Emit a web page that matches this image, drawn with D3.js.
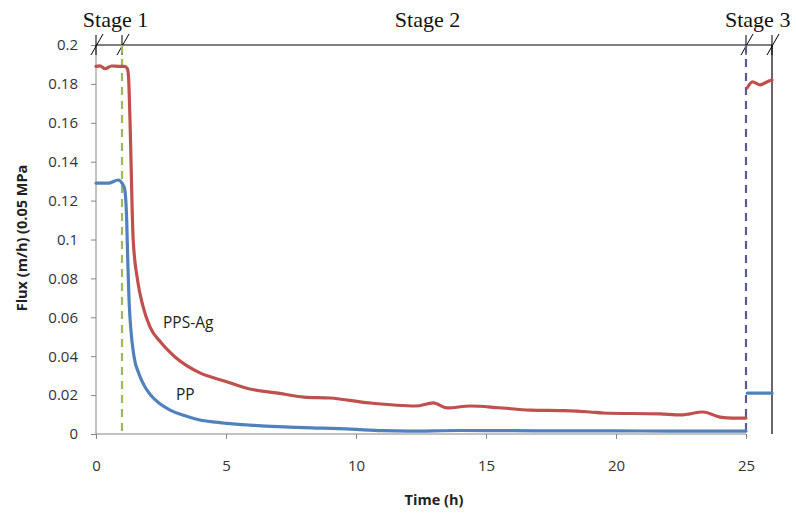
<!DOCTYPE html>
<html>
<head>
<meta charset="utf-8">
<script src="https://cdnjs.cloudflare.com/ajax/libs/d3/7.8.5/d3.min.js"></script>
<style>
  body { margin: 0; background: #fff; }
  svg { display: block; }
</style>
</head>
<body>
<div id="graph"></div>
<script>
// data (time in h, flux in m/h)
var ppsAgTime = [0, 0.15, 0.35, 0.6, 0.9, 1.1, 1.2, 1.25, 1.3, 1.43, 1.6, 1.8, 2.08, 2.5, 3.04, 4, 5, 5.8, 7, 8, 9, 10.5, 12.3, 12.97, 13.5, 14.4, 15.5, 16.7, 18, 19, 19.5, 21.7, 22.5, 23.35, 24, 24.5, 25];
var ppsAgFlux = [0.189, 0.1893, 0.1878, 0.1892, 0.189, 0.189, 0.188, 0.184, 0.165, 0.1, 0.079, 0.066, 0.055, 0.047, 0.0396, 0.0314, 0.027, 0.0235, 0.021, 0.019, 0.0185, 0.016, 0.0144, 0.016, 0.0134, 0.0144, 0.0135, 0.0123, 0.012, 0.0113, 0.0108, 0.0103, 0.0098, 0.0113, 0.0087, 0.0082, 0.0082];
var ppTime = [0, 0.5, 0.85, 1.0, 1.1, 1.18, 1.22, 1.27, 1.46, 1.65, 1.85, 2.1, 2.46, 2.85, 3.4, 4, 4.5, 5, 5.9, 7, 8, 9.8, 11, 12, 14, 16, 18, 20, 22, 25];
var ppFlux = [0.129, 0.129, 0.1306, 0.129, 0.126, 0.11, 0.09, 0.069, 0.04, 0.031, 0.025, 0.02, 0.0155, 0.0123, 0.0095, 0.0072, 0.0062, 0.0055, 0.0046, 0.0038, 0.0033, 0.0025, 0.0017, 0.0015, 0.0018, 0.0017, 0.0016, 0.0016, 0.0015, 0.0015];
// stage 3 (after re-cleaning)
var ppsAgTime3 = [25.05, 25.25, 25.55, 25.8, 26];
var ppsAgFlux3 = [0.178, 0.181, 0.1795, 0.181, 0.182];
var ppTime3 = [25.05, 25.5, 26];
var ppFlux3 = [0.021, 0.021, 0.021];

var xTicks = [0, 5, 10, 15, 20, 25];
var yTicks = [0, 0.02, 0.04, 0.06, 0.08, 0.1, 0.12, 0.14, 0.16, 0.18, 0.2];
var stageNames = ["Stage 1", "Stage 2", "Stage 3"];
var stageBreaks = [0, 1, 25, 26];

var width = 796, height = 514;
var svg = d3.select("#graph").append("svg")
    .attr("width", width)
    .attr("height", height);

var x = d3.scaleLinear().domain([0, 26]).range([96, 772]);
var y = d3.scaleLinear().domain([0, 0.2]).range([434, 45]);

var axisColor = "#868686";
var labelFont = "'Open Sans', sans-serif";

// y axis
var yAxis = svg.append("g")
    .attr("transform", "translate(" + x(0) + ",0)")
    .call(d3.axisLeft(y).tickValues(yTicks).tickSize(5).tickPadding(13).tickFormat(d3.format("~g")));
yAxis.selectAll("line, path").attr("stroke", axisColor);
yAxis.select(".domain").attr("d", "M0," + y(0) + "V" + y(0.2));
yAxis.selectAll("text").attr("font-family", labelFont).attr("font-size", "15px").attr("fill", "#333");

// x axis
var xAxis = svg.append("g")
    .attr("transform", "translate(0," + y(0) + ")")
    .call(d3.axisBottom(x).tickValues(xTicks).tickSize(5).tickPadding(21));
xAxis.selectAll("line, path").attr("stroke", axisColor);
xAxis.select(".domain").attr("d", "M" + x(0) + ",0H" + x(25));
xAxis.selectAll("text").attr("font-family", labelFont).attr("font-size", "15px").attr("fill", "#333");

// frame: top stage line and right edge
svg.append("line")
    .attr("x1", x(0)).attr("x2", x(26))
    .attr("y1", y(0.2)).attr("y2", y(0.2))
    .attr("stroke", "#000").attr("stroke-width", 1.2);
svg.append("line")
    .attr("x1", x(26)).attr("x2", x(26))
    .attr("y1", y(0.2)).attr("y2", y(0))
    .attr("stroke", "#000").attr("stroke-width", 1.2);

// stage break marks
stageBreaks.forEach(function (t) {
    var bx = x(t), by = y(0.2);
    svg.append("line")
        .attr("x1", bx).attr("x2", bx)
        .attr("y1", by - 10).attr("y2", by + 10)
        .attr("stroke", "#000").attr("stroke-width", 1);
    svg.append("line")
        .attr("x1", bx - 5).attr("x2", bx + 7)
        .attr("y1", by + 10).attr("y2", by - 11)
        .attr("stroke", "#000").attr("stroke-width", 1);
});

// stage labels
var stageCenters = [0.75, 12.75, 25.45];
svg.selectAll(".stage")
    .data(stageNames)
    .enter()
    .append("text")
    .attr("x", function (d, i) { return x(stageCenters[i]); })
    .attr("y", 27)
    .attr("text-anchor", "middle")
    .attr("font-family", "'Liberation Serif', 'DejaVu Serif', serif")
    .attr("font-size", "22px")
    .attr("fill", "#111")
    .text(function (d) { return d; });

// dashed stage dividers
svg.append("line")
    .attr("x1", x(1)).attr("x2", x(1))
    .attr("y1", y(0.2)).attr("y2", y(0))
    .attr("stroke", "#9bbb59").attr("stroke-width", 2.2)
    .attr("stroke-dasharray", "8,6");
svg.append("line")
    .attr("x1", x(25)).attr("x2", x(25))
    .attr("y1", y(0.2)).attr("y2", y(0))
    .attr("stroke", "#5a5a96").attr("stroke-width", 2.2)
    .attr("stroke-dasharray", "8,6");

// series
var line = d3.line()
    .x(function (d) { return x(d[0]); })
    .y(function (d) { return y(d[1]); })
    .curve(d3.curveMonotoneX);

function addSeries(ts, vs, color) {
    svg.append("path")
        .datum(d3.zip(ts, vs))
        .attr("d", line)
        .attr("fill", "none")
        .attr("stroke", color)
        .attr("stroke-width", 3.2)
        .attr("stroke-linejoin", "round")
        .attr("stroke-linecap", "round");
}
addSeries(ppsAgTime, ppsAgFlux, "#c0504d");
addSeries(ppTime, ppFlux, "#4f81bd");
addSeries(ppsAgTime3, ppsAgFlux3, "#c0504d");
addSeries(ppTime3, ppFlux3, "#4f81bd");

// series labels
svg.append("text")
    .attr("x", 163).attr("y", 328)
    .attr("font-family", labelFont).attr("font-size", "15.5px").attr("fill", "#222")
    .text("PPS-Ag");
svg.append("text")
    .attr("x", 176).attr("y", 400)
    .attr("font-family", labelFont).attr("font-size", "15.5px").attr("fill", "#222")
    .text("PP");

// axis titles
svg.append("text")
    .attr("x", x(13)).attr("y", 505)
    .attr("text-anchor", "middle")
    .attr("font-family", labelFont).attr("font-size", "14.5px").attr("font-weight", "bold")
    .attr("fill", "#222")
    .text("Time (h)");
svg.append("text")
    .attr("transform", "translate(27,238) rotate(-90)")
    .attr("text-anchor", "middle")
    .attr("font-family", labelFont).attr("font-size", "14.5px").attr("font-weight", "bold")
    .attr("fill", "#222")
    .text("Flux (m/h) (0.05 MPa");
</script>
</body>
</html>
